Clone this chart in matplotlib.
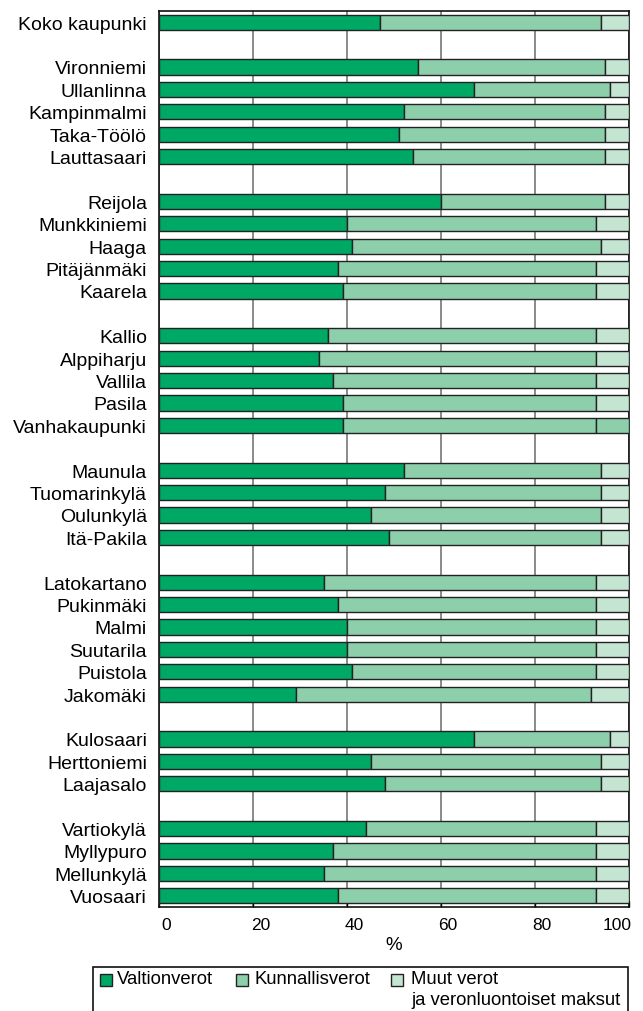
import matplotlib
matplotlib.use('Agg')
import matplotlib.pyplot as plt
import matplotlib.transforms as mtransforms
from matplotlib.patches import Rectangle

plt.rcParams['font.family'] = ['Liberation Sans', 'DejaVu Sans']

# groups of areas, top to bottom
groups = [
    ['Koko kaupunki'],
    ['Vironniemi', 'Ullanlinna', 'Kampinmalmi', 'Taka-Töölö', 'Lauttasaari'],
    ['Reijola', 'Munkkiniemi', 'Haaga', 'Pitäjänmäki', 'Kaarela'],
    ['Kallio', 'Alppiharju', 'Vallila', 'Pasila', 'Vanhakaupunki'],
    ['Maunula', 'Tuomarinkylä', 'Oulunkylä', 'Itä-Pakila'],
    ['Latokartano', 'Pukinmäki', 'Malmi', 'Suutarila', 'Puistola', 'Jakomäki'],
    ['Kulosaari', 'Herttoniemi', 'Laajasalo'],
    ['Vartiokylä', 'Myllypuro', 'Mellunkylä', 'Vuosaari'],
]

# shares in %, same order as the names above
valtionverot = [47,
                55, 67, 52, 51, 54,
                60, 40, 41, 38, 39,
                36, 34, 37, 39, 39,
                52, 48, 45, 49,
                35, 38, 40, 40, 41, 29,
                67, 45, 48,
                44, 37, 35, 38]
kunnallisverot = [47,
                  40, 29, 43, 44, 41,
                  35, 53, 53, 55, 54,
                  57, 59, 56, 54, 54,
                  42, 46, 49, 45,
                  58, 55, 53, 53, 52, 63,
                  29, 49, 46,
                  49, 56, 58, 55]
muut = [6,
        5, 4, 5, 5, 5,
        5, 7, 6, 7, 7,
        7, 7, 7, 7, 7,
        6, 6, 6, 6,
        7, 7, 7, 7, 7, 8,
        4, 6, 6,
        7, 7, 7, 7]

series_names = ['Valtionverot', 'Kunnallisverot', 'Muut verot\nja veronluontoiset maksut']
colors = ['#00a865', '#8dcfaa', '#c5e5d3']
x_ticks = [0, 20, 40, 60, 80, 100]

# y slot of every bar, one empty slot between groups
names = []
ypos = []
slot = 0
for g in groups:
    for n in g:
        names.append(n)
        ypos.append(slot)
        slot += 1
    slot += 1
nslots = slot - 1

fig = plt.figure(figsize=(6.43, 10.12), dpi=100)
ax = fig.add_axes([0.248, 0.1028, 0.730, 0.8854])

h = 0.68
ec = '#222222'
ax.barh(ypos, valtionverot, height=h, color=colors[0], edgecolor=ec, linewidth=1, zorder=3)
ax.barh(ypos, kunnallisverot, left=valtionverot, height=h, color=colors[1],
        edgecolor=ec, linewidth=1, zorder=3)
left2 = [a + b for a, b in zip(valtionverot, kunnallisverot)]
# Vanhakaupunki's last part is drawn in the middle colour in the original
c3 = [colors[1] if n == 'Vanhakaupunki' else colors[2] for n in names]
ax.barh(ypos, muut, left=left2, height=h, color=c3, edgecolor=ec, linewidth=1, zorder=3)

ax.set_xlim(0, 100)
ax.set_ylim(nslots - 0.5, -0.5)
ax.set_yticks(ypos)
ax.set_yticklabels(names, fontsize=14)
ax.tick_params(axis='y', length=0, pad=9)
ax.set_xticks(x_ticks)
ax.tick_params(axis='x', direction='in', length=4, labelsize=12.5, pad=7, width=1)
ax.set_xlabel('%', fontsize=13.5, labelpad=3)
ax.grid(axis='x', color='#777777', linewidth=1.2, zorder=0)
for s in ax.spines.values():
    s.set_color('#111111')
    s.set_linewidth(1.2)

# tick labels sit a bit to the right of the ticks, the last one ends at the axis end
fig.canvas.draw()
labels = ax.get_xticklabels()
for i, lab in enumerate(labels):
    if i == len(labels) - 1:
        lab.set_ha('right')
        off = mtransforms.ScaledTranslation(3 / 100, 0, fig.dpi_scale_trans)
    else:
        off = mtransforms.ScaledTranslation(7 / 100, 0, fig.dpi_scale_trans)
    lab.set_transform(lab.get_transform() + off)

# legend box, cut by the bottom edge like in the original
W, H = 643.0, 1012.0
fig.patches.append(Rectangle((93 / W, -0.02), (628 - 93) / W, 0.02 + (H - 968) / H,
                             transform=fig.transFigure, facecolor='white',
                             edgecolor='#111111', linewidth=1.2, clip_on=False))
handle_x = [100, 236, 391]
text_x = [117, 255, 411]
for c, hx, tx, name in zip(colors, handle_x, text_x, series_names):
    fig.patches.append(Rectangle((hx / W, 1 - 987 / H), 12 / W, 12 / H,
                                 transform=fig.transFigure, facecolor=c,
                                 edgecolor=ec, linewidth=1))
    fig.text(tx / W, 1 - 971 / H, name, fontsize=13.3, va='top', ha='left',
             linespacing=1.3)

fig.savefig('out.png', dpi=100)
